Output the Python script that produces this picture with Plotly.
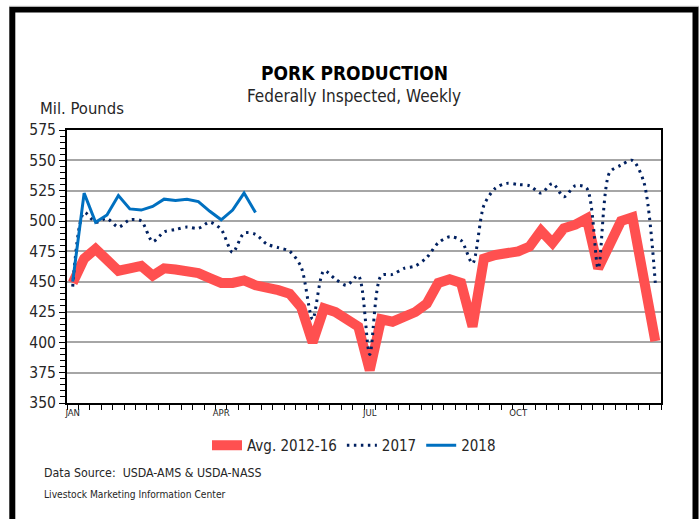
import plotly.graph_objects as go

weeks = list(range(1, 53))
avg_2012_16 = [449, 469, 477, 468, 459, 461, 463, 455, 461, 460,
               459, 457, 453, 449, 449, 451, 447, 446, 443, 440,
               429, 400, 428, 425, 420, 413, 377, 419, 417, 421,
               425, 432, 449, 452, 449, 413, 469, 472, 473, 475,
               479, 492, 482, 494, 497, 502, 461, 481, 500, 503,
               455, 401]
y2017 = [446, 507, 499, 502, 495, 501, 500, 483, 491, 493,
         495, 494, 499, 493, 474, 490, 489, 481, 478, 475,
         462, 419, 459, 452, 447, 455, 390, 455, 456, 461,
         463, 470, 482, 487, 484, 465, 513, 527, 531, 530,
         529, 523, 531, 520, 529, 527, 461, 540, 546, 550,
         532, 449]
y2018 = [450, 523, 499, 505, 521, 510, 509, 512, 518, 517,
         518, 516, 508, 501, 509, 523, 507]
month_ticks = [1, 14, 27, 40]
month_labels = ["JAN", "APR", "JUL", "OCT"]
week_bounds = [w - 0.5 for w in weeks] + [weeks[-1] + 0.5]

W, H = 700, 519
L, R, T, B = 67, 39, 130, 116
PW, PH = W - L - R, H - T - B

def px(x):
    return (x - L) / PW

def py(y):
    return (H - B - y) / PH

FONT = "DejaVu Sans Condensed, Liberation Sans Narrow, sans-serif"
TXT = "#262626"

fig = go.Figure()
fig.add_trace(go.Scatter(x=weeks, y=avg_2012_16, mode="lines", name="Avg. 2012-16",
                         line=dict(color="#FF5050", width=10)))
fig.add_trace(go.Scatter(x=weeks, y=y2017, mode="lines", name="2017",
                         line=dict(color="#002060", width=3, dash="2.5px,4.5px",
                                   shape="spline", smoothing=0.8)))
fig.add_trace(go.Scatter(x=weeks[:len(y2018)], y=y2018, mode="lines", name="2018",
                         line=dict(color="#0070C0", width=3)))

fig.update_layout(
    width=W, height=H,
    margin=dict(l=L, r=R, t=T, b=B, pad=0),
    paper_bgcolor="white", plot_bgcolor="white",
    font=dict(family=FONT, color=TXT),
    showlegend=True,
    legend=dict(orientation="h", x=px(354), xanchor="center", y=py(429), yanchor="top",
                font=dict(size=15, color=TXT), bgcolor="rgba(0,0,0,0)",
                tracegroupgap=0),
    xaxis=dict(range=[0.5, 52.5], tickmode="array", tickvals=month_ticks, ticktext=month_labels,
               ticks="outside", ticklen=0, tickcolor="white", showgrid=False, zeroline=False,
               showline=True, linecolor="black", linewidth=2, mirror=True,
               tickfont=dict(size=9.5, color=TXT),
               minor=dict(tickmode="array", tickvals=week_bounds, ticks="outside", ticklen=5,
                          tickcolor="black", tickwidth=1, showgrid=False)),
    yaxis=dict(range=[350, 575], dtick=25, tick0=350, ticks="outside", ticklen=6,
               tickcolor="black", tickwidth=1,
               showgrid=True, gridcolor="#A6A6A6", gridwidth=1.5, zeroline=False,
               showline=True, linecolor="black", linewidth=2, mirror=True,
               tickfont=dict(size=15.5, color=TXT),
               minor=dict(dtick=5, ticks="outside", ticklen=5, tickcolor="black",
                          tickwidth=1, showgrid=False)),
)

annotations = [
    dict(text="<b>PORK PRODUCTION</b>", x=px(354), y=py(73), font=dict(size=19, color="black"),
         xanchor="center", yanchor="middle"),
    dict(text="Federally Inspected, Weekly", x=px(354), y=py(96), font=dict(size=17, color=TXT),
         xanchor="center", yanchor="middle"),
    dict(text="Mil. Pounds", x=px(38), y=py(108), font=dict(size=16.5, color=TXT),
         xanchor="left", yanchor="middle"),
    dict(text="Data Source:  USDA-AMS & USDA-NASS", x=px(42), y=py(473),
         font=dict(size=12.3, color=TXT), xanchor="left", yanchor="middle"),
    dict(text="Livestock Marketing Information Center", x=px(42), y=py(494),
         font=dict(size=10.2, color=TXT), xanchor="left", yanchor="middle"),
]
for a in annotations:
    a.update(xref="paper", yref="paper", showarrow=False)
fig.update_layout(annotations=annotations)

fig.update_layout(shapes=[
    dict(type="rect", xref="paper", yref="paper",
         x0=px(12.3), x1=px(695.5), y0=py(540), y1=py(9.5),
         line=dict(color="black", width=6), fillcolor="rgba(0,0,0,0)"),
    dict(type="line", xref="paper", yref="paper",
         x0=px(9), x1=px(699), y0=py(6.3), y1=py(6.3),
         line=dict(color="#BFBFBF", width=1)),
])

fig.write_html("out.html", config={"displayModeBar": False},
               post_script="document.body.style.margin='0';document.body.style.overflow='hidden';")
